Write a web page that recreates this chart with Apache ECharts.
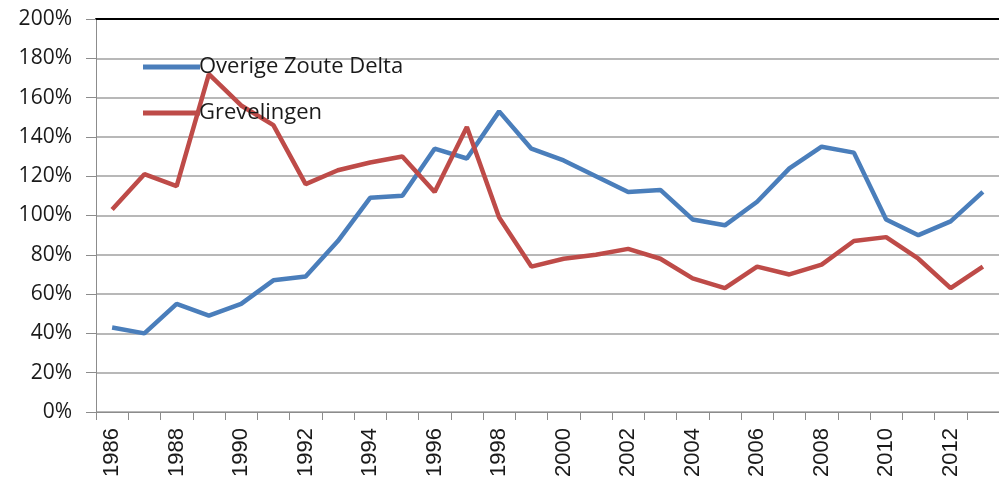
<!DOCTYPE html>
<html>
<head>
<meta charset="utf-8">
<script src="https://cdn.jsdelivr.net/npm/echarts@6/dist/echarts.min.js"></script>
<style>
  html, body { margin: 0; padding: 0; background: #fff; }
  #chart { width: 999px; height: 482px; }
</style>
</head>
<body>
<div id="chart"></div>
<script>
// years on the x axis
const years = ['1986', '1987', '1988', '1989', '1990', '1991', '1992', '1993', '1994', '1995',
  '1996', '1997', '1998', '1999', '2000', '2001', '2002', '2003', '2004', '2005',
  '2006', '2007', '2008', '2009', '2010', '2011', '2012', '2013']

// values in %
const overigeZouteDelta = [43, 40, 55, 49, 55, 67, 69, 87, 109, 110,
  134, 129, 153, 134, 128, 120, 112, 113, 98, 95,
  107, 124, 135, 132, 98, 90, 97, 112]
const grevelingen = [103, 121, 115, 172, 156, 146, 116, 123, 127, 130,
  112, 145, 99, 74, 78, 80, 83, 78, 68, 63,
  74, 70, 75, 87, 89, 78, 63, 74]

const chart = echarts.init(document.getElementById('chart'))

chart.setOption({
  animation: false,
  grid: {
    left: 96,
    right: -9,
    top: 19,
    bottom: 70,
  },
  legend: {
    orient: 'vertical',
    left: 138,
    top: 51,
    itemWidth: 57,
    itemHeight: 5,
    itemGap: 24,
    icon: 'rect',
    textStyle: {
      fontFamily: 'Open Sans',
      fontSize: 22,
      color: '#1a1a1a',
      padding: [0, 0, 0, -6],
    },
    data: ['Overige Zoute Delta', 'Grevelingen'],
  },
  xAxis: [{
    type: 'category',
    data: years,
    boundaryGap: true,
    axisLine: { lineStyle: { color: '#8c8c8c', width: 1 } },
    axisTick: {
      show: true,
      alignWithLabel: false,
      interval: 0,
      length: 8,
      lineStyle: { color: '#8c8c8c' },
    },
    axisLabel: {
      interval: 1,
      rotate: 90,
      margin: 16,
      fontFamily: 'Liberation Sans',
      fontSize: 22,
      color: '#1a1a1a',
    },
  }, {
    type: 'category',
    position: 'top',
    data: years,
    axisLine: { lineStyle: { color: '#000', width: 2 } },
    axisTick: { show: false },
    axisLabel: { show: false },
  }],
  yAxis: {
    type: 'value',
    min: 0,
    max: 200,
    interval: 20,
    axisLine: { show: true, lineStyle: { color: '#8c8c8c' } },
    axisTick: { show: true, length: 10, lineStyle: { color: '#8c8c8c' } },
    splitLine: { lineStyle: { color: '#a0a0a0', width: 1.5 } },
    axisLabel: {
      formatter: '{value}%',
      margin: 24,
      fontFamily: 'Open Sans',
      fontSize: 21,
      color: '#1a1a1a',
    },
  },
  series: [{
    name: 'Overige Zoute Delta',
    type: 'line',
    data: overigeZouteDelta,
    showSymbol: false,
    symbol: 'none',
    lineStyle: { width: 4.5, color: '#4a7ebb' },
    itemStyle: { color: '#4a7ebb' },
  }, {
    name: 'Grevelingen',
    type: 'line',
    data: grevelingen,
    showSymbol: false,
    symbol: 'none',
    lineStyle: { width: 4.5, color: '#be4b48' },
    itemStyle: { color: '#be4b48' },
  }],
})
</script>
</body>
</html>
